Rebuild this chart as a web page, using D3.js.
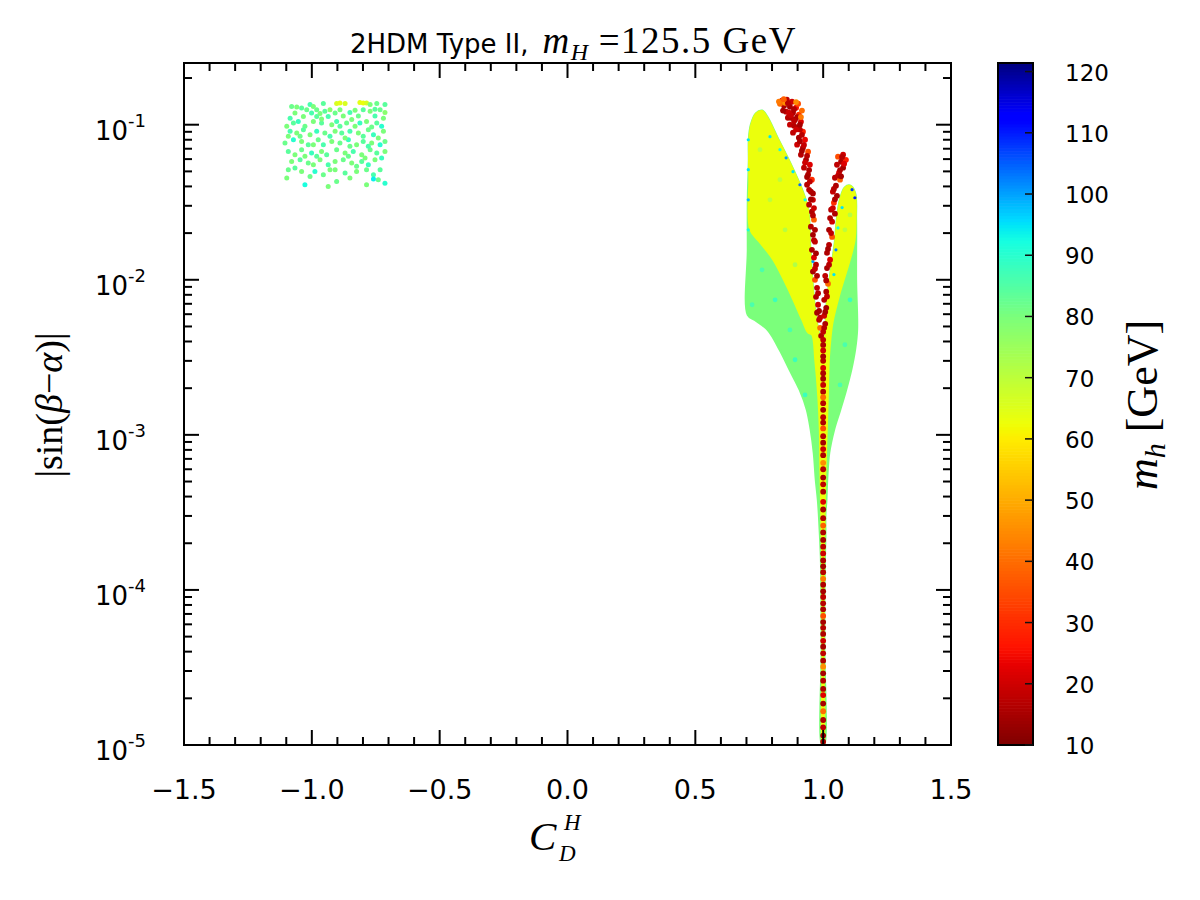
<!DOCTYPE html>
<html><head><meta charset="utf-8">
<script src="https://cdn.jsdelivr.net/npm/d3@7"></script>
<style>body{margin:0;background:#fff}</style>
</head><body>
<svg id="c" width="1200" height="900"></svg>
<script>
// ---------- axes / ticks ----------
const xDomain=[-1.5,1.5];
const yDomain=[1e-5,0.25];
const mhDomain=[10,121.4];
const xTicks=[-1.5,-1.0,-0.5,0.0,0.5,1.0,1.5];
const xTickLabels=["\u22121.5","\u22121.0","\u22120.5","0.0","0.5","1.0","1.5"];
const yTickExps=[-5,-4,-3,-2,-1];
const cbTicks=[10,20,30,40,50,60,70,80,90,100,110,120];

// ---------- dense regions (C_D^H, |sin(b-a)|) ----------
const envelopeMh=80;
const envelope=[[0.710,0.080],[0.718,0.100],[0.737,0.118],[0.761,0.123],[0.780,0.113],[0.819,0.0837],[0.870,0.0569],[0.917,0.0381],[0.941,0.0283],[0.948,0.0173],[0.956,0.01045],[0.968,0.0064],[0.984,0.00442],[0.995,0.00381],[1.008,0.00442],[1.012,0.0064],[1.027,0.01045],[1.046,0.0173],[1.054,0.0244],[1.066,0.0328],[1.085,0.0393],[1.105,0.0404],[1.124,0.0364],[1.128,0.0244],[1.128,0.010],[1.132,0.00475],[1.124,0.00353],[1.109,0.00262],[1.089,0.00195],[1.066,0.00145],[1.042,0.00108],[1.023,0.000765],[1.015,0.000513],[1.012,0.000381],[1.008,0.000305],[1.008,0.000226],[1.006,0.000156],[1.004,0.0000861],[1.004,0.000041],[1.003,1e-5],[0.996,1e-5],[0.995,0.000041],[0.994,0.0000861],[0.992,0.000156],[0.988,0.000226],[0.984,0.000305],[0.980,0.000381],[0.972,0.000513],[0.964,0.000765],[0.952,0.00108],[0.937,0.00145],[0.909,0.00195],[0.870,0.00262],[0.831,0.00353],[0.784,0.00475],[0.733,0.00552],[0.706,0.00594],[0.706,0.0156],[0.706,0.0328],[0.710,0.0594]];
const coreMh=63;
const core=[[0.710,0.080],[0.718,0.100],[0.737,0.118],[0.761,0.123],[0.780,0.113],[0.819,0.0837],[0.870,0.0569],[0.917,0.0381],[0.941,0.0283],[0.948,0.0173],[0.956,0.01045],[0.968,0.0064],[0.984,0.00442],[0.995,0.00381],[1.008,0.00442],[1.012,0.0064],[1.027,0.01045],[1.046,0.0173],[1.054,0.0244],[1.066,0.0328],[1.085,0.0393],[1.105,0.0404],[1.124,0.0364],[1.128,0.0244],[1.124,0.0181],[1.105,0.01346],[1.066,0.00824],[1.038,0.00536],[1.031,0.00442],[1.023,0.00305],[1.019,0.00176],[1.015,0.00108],[1.010,0.000594],[1.006,0.000283],[1.004,0.000156],[1.002,0.000041],[1.001,1e-5],[0.998,1e-5],[0.997,0.000041],[0.995,0.000156],[0.992,0.000283],[0.988,0.000594],[0.986,0.00108],[0.980,0.00176],[0.968,0.00305],[0.956,0.00442],[0.941,0.00455],[0.917,0.00552],[0.870,0.00824],[0.804,0.01346],[0.753,0.0173],[0.714,0.021],[0.710,0.0442]];

// texture points inside dense regions [x, y, m_h]
const texturePts=[[0.761,0.0116,86],[0.812,0.00743,88],[0.870,0.00475,86],[0.890,0.00305,88],[1.085,0.00381,86],[1.105,0.00743,88],[0.722,0.0069,86],[0.929,0.00181,88],[1.066,0.0021,86],
[0.753,0.069,70],[0.792,0.0328,70],[0.851,0.021,71],[0.831,0.0442,70],[0.890,0.0125,72],[1.085,0.021,70],[1.105,0.0262,71]];
// cyan / blue points along region edges
const edgePts=[[0.792,0.0837,95],[0.831,0.069,92],[0.855,0.0612,100],[0.882,0.0498,95],[0.909,0.041,104],[0.929,0.0328,92],[0.948,0.0216,95],[0.960,0.0131,100],[1.113,0.0381,108],[1.124,0.0338,110],[1.074,0.0292,95],[1.058,0.0216,92],[1.050,0.0156,102],[1.042,0.0108,95],[0.707,0.080,95],[0.707,0.0513,95],[0.707,0.0328,98],[0.707,0.021,92]];

// low m_h branches
const leftBranch=[[0.839,0.143,22],[0.858,0.145,18],[0.878,0.1406,20],[0.847,0.1326,16],[0.870,0.1306,15],[0.894,0.1287,25],[0.831,0.1365,40],[0.855,0.1213,18],[0.882,0.1195,16],[0.905,0.116,30],[0.862,0.1109,17],[0.890,0.1077,15],[0.913,0.1045,22],[0.870,0.100,19],[0.898,0.0957,16],[0.921,0.0902,28],[0.882,0.0888,18],[0.905,0.0825,15],[0.929,0.080,24],[0.898,0.0743,20],[0.921,0.0711,16],[0.941,0.067,35],[0.913,0.064,17],[0.933,0.0594,15],[0.948,0.0552,22],[0.925,0.0528,18],[0.941,0.0476,16],[0.956,0.0442,30],[0.937,0.041,17],[0.952,0.037,15],[0.960,0.0328,20],[0.945,0.0305,18],[0.956,0.0275,16],[0.964,0.0244,38],[0.952,0.022,17],[0.960,0.0195,15],[0.968,0.0176,19],[0.956,0.0156,16],[0.964,0.0139,22],[0.972,0.0125,17],[0.960,0.0113,15],[0.968,0.010,35],[0.976,0.00888,18],[0.972,0.00776,16],[0.980,0.0069,20],[0.976,0.00613,15],[0.984,0.00552,17],[0.988,0.0049,40],[0.992,0.00435,16],
[0.843,0.1233,15],[0.866,0.1195,20],[0.874,0.1109,16],[0.851,0.1385,45],[0.902,0.1365,35],[0.917,0.1233,40],[0.886,0.0986,17],[0.909,0.093,18],
[0.862,0.138,17],[0.886,0.126,16],[0.874,0.115,19],[0.898,0.112,16],[0.886,0.106,18],[0.909,0.100,15],[0.894,0.093,20],[0.917,0.086,17],[0.909,0.078,16],[0.925,0.074,19],[0.917,0.068,15],[0.937,0.063,17],[0.929,0.057,20],[0.945,0.051,16],[0.937,0.046,15],[0.948,0.043,18],[0.945,0.038,17],[0.960,0.036,16],[0.952,0.033,15],[0.964,0.029,20],[0.960,0.026,17],[0.968,0.021,16],[0.964,0.018,18],[0.972,0.0148,15],[0.968,0.0118,19],[0.976,0.0106,16],[0.980,0.0082,17],[0.984,0.0063,15],[0.988,0.0057,18],
[0.827,0.141,42],[0.846,0.146,38],[0.894,0.140,45],[0.913,0.112,42]];
const rightBranch=[[1.078,0.064,20],[1.058,0.0622,35],[1.070,0.0577,16],[1.089,0.0594,28],[1.054,0.0552,18],[1.078,0.0528,15],[1.062,0.049,22],[1.046,0.0455,17],[1.066,0.0442,38],[1.050,0.0404,16],[1.038,0.037,19],[1.054,0.0348,15],[1.042,0.0314,30],[1.031,0.0283,17],[1.046,0.0267,16],[1.035,0.0237,20],[1.023,0.021,15],[1.035,0.0189,36],[1.023,0.0168,17],[1.015,0.0149,16],[1.027,0.01346,22],[1.015,0.0119,15],[1.008,0.0106,18],[1.019,0.00943,40],[1.012,0.00837,16],[1.004,0.00743,17],[1.012,0.00659,15],[1.004,0.00586,20],[1.008,0.0052,16],[1.0,0.00462,18],
[1.074,0.062,17],[1.082,0.056,22],[1.066,0.051,16],[1.058,0.047,18],[1.070,0.0465,15],[1.042,0.0385,17],[1.046,0.033,16],[1.038,0.029,20],[1.027,0.025,16],[1.031,0.020,18],[1.019,0.0158,15],[1.023,0.0125,17],[1.012,0.0099,16],[1.015,0.0078,18],[1.008,0.0062,15],[1.004,0.0049,17]];
// vertical stem at C_D^H = 1 : [|sin|, m_h]
const stemX=1.0;
const stemPts=[[4.1e-3,18],[3.8e-3,16],[3.5e-3,20],[3.2e-3,15],[3.0e-3,17],[2.7e-3,22],[2.5e-3,16],[2.3e-3,15],[2.1e-3,19],[1.9e-3,16],[1.75e-3,40],[1.6e-3,17],[1.45e-3,15],[1.3e-3,18],[1.2e-3,16],[1.1e-3,35],[9.8e-4,17],[8.9e-4,15],[8.1e-4,20],[7.4e-4,16],[6.6e-4,45],[6.0e-4,17],[5.3e-4,15],[4.8e-4,18],[4.3e-4,16],[3.7e-4,22],[3.3e-4,15],[2.9e-4,17],[2.6e-4,38],[2.35e-4,16],[2.1e-4,15],[1.9e-4,18],[1.72e-4,20],[1.55e-4,16],[1.42e-4,15],[1.3e-4,17],[1.18e-4,42],[1.08e-4,16],[9.8e-5,15],[9.0e-5,18],[8.2e-5,17],[7.5e-5,16],[6.8e-5,35],[6.2e-5,15],[5.7e-5,17],[5.2e-5,16],[4.7e-5,20],[4.3e-5,15],[3.9e-5,18],[3.5e-5,16],[3.2e-5,45],[2.9e-5,15],[2.6e-5,17],[2.3e-5,16],[2.1e-5,22],[1.85e-5,15],[1.65e-5,40],[1.45e-5,16],[1.3e-5,18],[1.15e-5,15],[1.05e-5,17]];

// isolated cluster near C_D^H = -1
const clusterPts=[[-1.079,0.131,82],[-1.059,0.130,80],[-1.040,0.128,84],[-1.007,0.135,86],[-0.994,0.131,80],[-0.955,0.137,84],[-0.903,0.137,66],[-0.890,0.138,64],[-0.870,0.137,66],[-0.812,0.139,64],[-0.799,0.138,63],[-0.786,0.138,66],[-0.772,0.135,80],[-0.746,0.137,82],[-0.714,0.135,84],
[-1.020,0.125,82],[-1.001,0.119,86],[-0.968,0.118,80],[-0.949,0.122,84],[-0.929,0.125,78],[-0.909,0.119,82],[-0.851,0.120,86],[-0.831,0.124,80],[-0.799,0.125,84],[-0.772,0.122,80],[-0.733,0.125,82],[-0.714,0.120,78],[-1.033,0.113,80],[-0.981,0.113,84],[-0.936,0.113,86],[-0.877,0.114,80],[-0.818,0.114,82],[-0.753,0.114,86],[-0.720,0.110,80],
[-1.098,0.0976,80],[-1.072,0.1025,84],[-1.053,0.105,88],[-1.027,0.0976,82],[-0.994,0.105,80],[-0.962,0.1025,84],[-0.922,0.100,80],[-0.903,0.105,86],[-0.864,0.1025,82],[-0.844,0.108,80],[-0.812,0.1025,88],[-0.786,0.105,80],[-0.746,0.1025,84],[-0.727,0.0976,90],
[-1.085,0.0906,86],[-1.059,0.0884,80],[-1.033,0.0929,84],[-1.007,0.0862,80],[-0.981,0.0906,88],[-0.949,0.0884,82],[-0.909,0.0906,80],[-0.883,0.0884,84],[-0.851,0.0906,86],[-0.818,0.0884,80],[-0.779,0.0929,82],[-0.759,0.0862,88],[-0.720,0.0906,80],
[-1.105,0.0762,82],[-1.072,0.080,90],[-1.040,0.078,80],[-1.014,0.0743,84],[-0.975,0.080,82],[-0.955,0.0743,86],[-0.922,0.078,80],[-0.890,0.0762,82],[-0.857,0.080,88],[-0.825,0.0743,80],[-0.799,0.078,84],[-0.766,0.0762,80],[-0.733,0.0743,90],
[-1.092,0.0673,84],[-1.066,0.064,80],[-1.040,0.069,82],[-1.001,0.0657,88],[-0.962,0.0673,80],[-0.942,0.064,84],[-0.903,0.069,82],[-0.870,0.0657,80],[-0.838,0.0673,86],[-0.805,0.064,80],[-0.772,0.069,82],[-0.746,0.0657,84],[-0.714,0.0673,80],
[-1.079,0.058,80],[-1.046,0.0595,84],[-1.014,0.0566,82],[-0.968,0.0595,80],[-0.936,0.0552,86],[-0.909,0.058,80],[-0.877,0.0595,82],[-0.844,0.0566,80],[-0.805,0.058,84],[-0.779,0.0552,88],[-0.753,0.0595,80],
[-1.092,0.0513,82],[-1.040,0.050,80],[-0.988,0.050,90],[-0.955,0.0476,82],[-0.909,0.0513,80],[-0.870,0.0488,84],[-0.825,0.050,80],[-0.786,0.0513,82],[-0.759,0.0476,86],
[-1.098,0.0453,80],[-1.027,0.041,92],[-0.903,0.0431,82],[-0.786,0.041,80],[-0.714,0.042,90],[-0.759,0.0447,94],
[-1.066,0.119,80],[-0.981,0.125,82],[-0.890,0.125,80],[-0.753,0.126,84],[-1.085,0.110,86],[-0.962,0.109,80],[-0.890,0.0976,84],[-0.831,0.0976,80],[-0.766,0.0967,82],[-1.046,0.0841,82],[-0.929,0.0841,86],[-0.870,0.082,80],[-0.799,0.0841,84],[-0.740,0.082,80],[-1.092,0.0841,80],[-0.994,0.0743,80],[-0.851,0.0725,82],[-0.779,0.0725,86],[-0.714,0.078,82],[-1.027,0.0625,80],[-0.981,0.0625,84],[-0.857,0.0625,82],[-0.792,0.061,80],[-0.727,0.061,88],[-0.994,0.0552,80],[-0.825,0.0539,82],[-1.066,0.0526,84],[-0.929,0.0513,80],[-0.733,0.0513,84],[-1.007,0.0464,82],[-0.851,0.0453,80],[-0.936,0.040,80],[-0.740,0.0442,82]];

// ---------- drawing ----------
const M={l:184,r:951,t:63,b:745};
const svg=d3.select("#c");
const x=d3.scaleLinear().domain(xDomain).range([M.l,M.r]);
const y=d3.scaleLog().domain(yDomain).range([M.b,M.t]);
const cb={l:998,r:1033};
const cy=d3.scaleLinear().domain(mhDomain).range([M.b,M.t]);

const sMap=d3.scaleLinear().domain([10,60,80,95,121.4]).range([1,0.66,0.5,0.35,0]).clamp(true);
const rS=d3.scaleLinear().domain([0,0.35,0.66,0.89,1]).range([0,0,1,1,0.5]).clamp(true);
const gS=d3.scaleLinear().domain([0,0.125,0.375,0.64,0.91,1]).range([0,0,1,1,0,0]).clamp(true);
const bS=d3.scaleLinear().domain([0,0.11,0.34,0.65,1]).range([0.5,1,1,0,0]).clamp(true);
function color(mh){const s=sMap(mh);return d3.rgb(rS(s)*255,gS(s)*255,bS(s)*255).toString();}

svg.append("defs").append("clipPath").attr("id","pc").append("rect")
  .attr("x",M.l).attr("y",M.t).attr("width",M.r-M.l).attr("height",M.b-M.t);
const plot=svg.append("g").attr("clip-path","url(#pc)");

const line=d3.line().x(d=>x(d[0])).y(d=>y(d[1])).curve(d3.curveCatmullRomClosed.alpha(0.5));
plot.append("path").attr("d",line(envelope)).attr("fill",color(envelopeMh))
  .attr("stroke",color(envelopeMh)).attr("stroke-width",2.5).attr("stroke-linejoin","round");
plot.append("path").attr("d",line(core)).attr("fill",color(coreMh))
  .attr("stroke",color(coreMh)).attr("stroke-width",1.5).attr("stroke-linejoin","round");

function dots(data,r,fx,fy,fm){
  plot.append("g").selectAll("circle").data(data).join("circle")
    .attr("cx",d=>x(fx(d))).attr("cy",d=>y(fy(d))).attr("r",r)
    .attr("fill",d=>color(fm(d)));
}
dots(texturePts,2.4,d=>d[0],d=>d[1],d=>d[2]);
dots(edgePts,1.6,d=>d[0],d=>d[1],d=>d[2]);
dots(leftBranch,2.9,d=>d[0],d=>d[1],d=>d[2]);
dots(rightBranch,2.9,d=>d[0],d=>d[1],d=>d[2]);
dots(stemPts,2.9,d=>stemX,d=>d[0],d=>d[1]);
dots(clusterPts,2.5,d=>d[0],d=>d[1],d=>d[2]);

// frame
const ax=svg.append("g").attr("stroke","#000").attr("stroke-width",2);
ax.append("rect").attr("x",M.l).attr("y",M.t).attr("width",M.r-M.l).attr("height",M.b-M.t).attr("fill","none");
const xMinor=d3.range(-15,16).map(i=>i/10);
xMinor.forEach(v=>{
  const major=Math.abs(v*2-Math.round(v*2))<1e-6;
  const L=major?15:8;
  ax.append("line").attr("x1",x(v)).attr("x2",x(v)).attr("y1",M.b).attr("y2",M.b-L);
  ax.append("line").attr("x1",x(v)).attr("x2",x(v)).attr("y1",M.t).attr("y2",M.t+L);
});
const yMinor=[];
yTickExps.forEach(e=>{for(let k=2;k<=9;k++){const v=k*Math.pow(10,e);if(v<=yDomain[1])yMinor.push(v);}});
yTickExps.forEach(e=>{
  const v=Math.pow(10,e);
  ax.append("line").attr("x1",M.l).attr("x2",M.l+15).attr("y1",y(v)).attr("y2",y(v));
  ax.append("line").attr("x1",M.r).attr("x2",M.r-15).attr("y1",y(v)).attr("y2",y(v));
});
yMinor.forEach(v=>{
  ax.append("line").attr("x1",M.l).attr("x2",M.l+8).attr("y1",y(v)).attr("y2",y(v));
  ax.append("line").attr("x1",M.r).attr("x2",M.r-8).attr("y1",y(v)).attr("y2",y(v));
});

const sans="'DejaVu Sans', sans-serif";
const serif="'Liberation Serif','DejaVu Serif', serif";
xTicks.forEach((v,i)=>{
  svg.append("text").attr("x",x(v)).attr("y",799).attr("text-anchor","middle")
    .attr("font-family",sans).attr("font-size",27).text(xTickLabels[i]);
});
yTickExps.forEach(e=>{
  const t=svg.append("text").attr("x",146).attr("y",y(Math.pow(10,e))+15).attr("text-anchor","end")
    .attr("font-family",sans).attr("font-size",26);
  t.append("tspan").text("10");
  t.append("tspan").attr("font-size",18).attr("dy",-13).text("-"+Math.abs(e));
});

// title
const tt=svg.append("text").attr("x",350).attr("y",53).attr("text-anchor","start").attr("font-size",26);
tt.append("tspan").attr("font-family",sans).text("2HDM Type II,");
tt.append("tspan").attr("font-family",serif).attr("font-style","italic").attr("font-size",37).attr("dx",14).attr("letter-spacing",1.5).text("m");
tt.append("tspan").attr("font-family",serif).attr("font-style","italic").attr("font-size",24).attr("dy",7).text("H");
tt.append("tspan").attr("font-family",serif).attr("font-size",37).attr("dy",-7).attr("letter-spacing",1.5).text(" =125.5 GeV");

// y label
const yl=svg.append("text").attr("transform","translate(62,405) rotate(-90)").attr("text-anchor","middle")
  .attr("font-family",serif).attr("font-size",38);
yl.append("tspan").text("|sin(");
yl.append("tspan").attr("font-style","italic").text("β");
yl.append("tspan").text("\u2212");
yl.append("tspan").attr("font-style","italic").text("α");
yl.append("tspan").text(")|");

// x label
svg.append("text").attr("x",529).attr("y",850).attr("font-family",serif).attr("font-style","italic").attr("font-size",41).text("C");
svg.append("text").attr("x",564).attr("y",830).attr("font-family",serif).attr("font-style","italic").attr("font-size",23).text("H");
svg.append("text").attr("x",559).attr("y",861).attr("font-family",serif).attr("font-style","italic").attr("font-size",23).text("D");

// colorbar
const cbSteps=d3.range(mhDomain[0],mhDomain[1],0.5);
svg.append("g").selectAll("rect").data(cbSteps).join("rect")
  .attr("x",cb.l).attr("width",cb.r-cb.l)
  .attr("y",d=>cy(Math.min(d+0.5,mhDomain[1]))).attr("height",d=>cy(d)-cy(Math.min(d+0.5,mhDomain[1]))+0.6)
  .attr("fill",d=>color(d+0.25));
svg.append("rect").attr("x",cb.l).attr("y",M.t).attr("width",cb.r-cb.l).attr("height",M.b-M.t)
  .attr("fill","none").attr("stroke","#000").attr("stroke-width",2);
cbTicks.forEach(v=>{
  svg.append("line").attr("x1",cb.r).attr("x2",cb.r-8).attr("y1",cy(v)).attr("y2",cy(v)).attr("stroke","#111").attr("stroke-width",1.5);
  svg.append("text").attr("x",1065).attr("y",cy(v)+9).attr("font-family",sans).attr("font-size",23).text(v);
});
const cl=svg.append("text").attr("transform","translate(1157,405) rotate(-90)").attr("text-anchor","middle")
  .attr("font-family",serif).attr("font-size",44);
cl.append("tspan").attr("font-style","italic").text("m");
cl.append("tspan").attr("font-style","italic").attr("font-size",30).attr("dy",8).text("h");
cl.append("tspan").attr("dy",-8).text(" [GeV]");
</script>
</body></html>
